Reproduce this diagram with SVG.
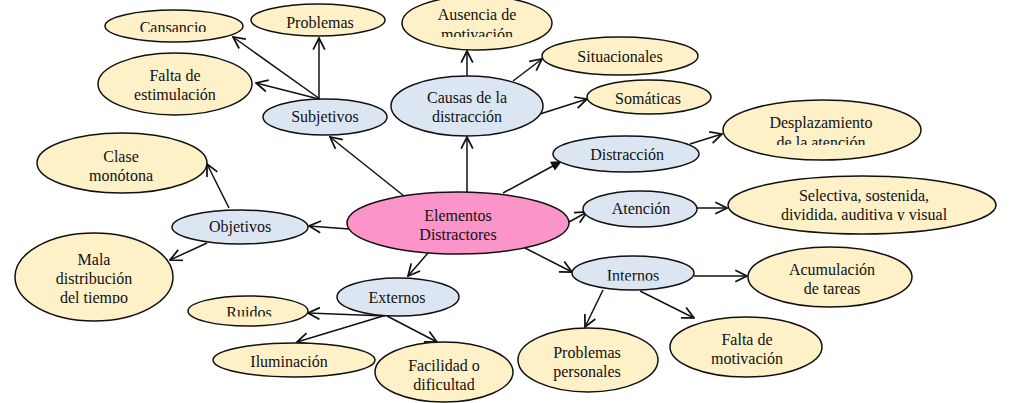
<svg xmlns="http://www.w3.org/2000/svg" width="1009" height="403" viewBox="0 0 1009 403" font-family="'Liberation Serif', 'DejaVu Serif', serif">
  <style>
    .yel { fill: #FEF0C7; stroke: #111; stroke-width: 1.5; }
    .blu { fill: #DCE6F2; stroke: #111; stroke-width: 1.5; }
    .pnk { fill: #FB94C9; stroke: #111; stroke-width: 1.5; }
    text { font-family: 'Liberation Serif', 'DejaVu Serif', serif; font-size: 16px; fill: #111; text-anchor: middle; }
    .edge { stroke: #111; stroke-width: 1.5; fill: none; marker-end: url(#open); }
    .edge.solid { marker-end: url(#filled); }
  </style>
  <defs>
    <marker id="open" markerUnits="userSpaceOnUse" markerWidth="14" markerHeight="14" viewBox="0 0 12 12" refX="11" refY="6" orient="auto">
      <path d="M1,1 L11,6 L1,11" fill="none" stroke="#111" stroke-width="1.5"/>
    </marker>
    <marker id="filled" markerUnits="userSpaceOnUse" markerWidth="12" markerHeight="12" viewBox="0 0 12 12" refX="11" refY="6" orient="auto">
      <path d="M0,1 L11,6 L0,11 Z" fill="#111"/>
    </marker>
    <!-- label areas that cut the text off at the bottom or top -->
    <clipPath id="cl-cansancio"><rect x="100" y="0" width="150" height="32"/></clipPath>
    <clipPath id="cl-ausencia"><rect x="400" y="0" width="160" height="37"/></clipPath>
    <clipPath id="cl-desplaz"><rect x="720" y="100" width="210" height="45"/></clipPath>
    <clipPath id="cl-selectiva"><rect x="725" y="176" width="280" height="44.5"/></clipPath>
    <clipPath id="cl-mala"><rect x="10" y="230" width="170" height="73.5"/></clipPath>
    <clipPath id="cl-ruidos"><rect x="185" y="290" width="130" height="26.5"/></clipPath>
    <clipPath id="cl-internos"><rect x="570" y="255" width="130" height="25.5"/></clipPath>
  </defs>

  <g id="connectors">
    <line class="edge" x1="404" y1="196" x2="330" y2="137"/>
    <line class="edge" x1="320" y1="99" x2="233" y2="37"/>
    <line class="edge" x1="319" y1="99" x2="319" y2="38"/>
    <line class="edge" x1="319" y1="99" x2="256" y2="83"/>
    <line class="edge" x1="467" y1="192" x2="467" y2="137"/>
    <line class="edge" x1="467" y1="76" x2="467" y2="51"/>
    <line class="edge" x1="513" y1="81" x2="542" y2="59"/>
    <line class="edge" x1="540" y1="114" x2="587" y2="99"/>
    <line class="edge solid" x1="503" y1="193" x2="562" y2="161"/>
    <line class="edge" x1="690" y1="144" x2="722" y2="134"/>
    <line class="edge" x1="569" y1="222" x2="587" y2="212"/>
    <line class="edge" x1="697" y1="208" x2="727" y2="208"/>
    <line class="edge" x1="525" y1="248" x2="572" y2="272"/>
    <line class="edge" x1="694" y1="276" x2="747" y2="276"/>
    <line class="edge" x1="603" y1="290" x2="585" y2="327"/>
    <line class="edge" x1="640" y1="291" x2="694" y2="318"/>
    <line class="edge" x1="428" y1="253" x2="408" y2="276"/>
    <line class="edge" x1="385" y1="316" x2="308" y2="313"/>
    <line class="edge" x1="383" y1="316" x2="297" y2="342"/>
    <line class="edge" x1="387" y1="316" x2="437" y2="342"/>
    <line class="edge" x1="349" y1="229" x2="309" y2="226"/>
    <line class="edge" x1="229" y1="208" x2="207" y2="164"/>
    <line class="edge" x1="207" y1="243" x2="170" y2="260"/>
  </g>

  <g id="n-elementos">
    <ellipse class="pnk" cx="458" cy="223" rx="111" ry="31"/>
    <text x="458" y="221">Elementos</text>
    <text x="458" y="240">Distractores</text>
  </g>

  <g id="n-subjetivos">
    <ellipse class="blu" cx="325" cy="117" rx="62" ry="18"/>
    <text x="325" y="122">Subjetivos</text>
  </g>
  <g id="n-cansancio">
    <ellipse class="yel" cx="174" cy="26" rx="69" ry="16"/>
    <text x="173" y="33" clip-path="url(#cl-cansancio)">Cansancio</text>
  </g>
  <g id="n-problemas">
    <ellipse class="yel" cx="318" cy="20" rx="67" ry="16"/>
    <text x="320" y="28">Problemas</text>
  </g>
  <g id="n-falta-estimulacion">
    <ellipse class="yel" cx="175" cy="84" rx="77" ry="31"/>
    <text x="175" y="81">Falta de</text>
    <text x="175" y="100">estimulación</text>
  </g>

  <g id="n-causas">
    <ellipse class="blu" cx="467" cy="106" rx="76" ry="30"/>
    <text x="467" y="103">Causas de la</text>
    <text x="467" y="122">distracción</text>
  </g>
  <g id="n-ausencia">
    <ellipse class="yel" cx="477" cy="23" rx="75" ry="27"/>
    <g clip-path="url(#cl-ausencia)">
      <text x="477" y="20">Ausencia de</text>
      <text x="477" y="40">motivación</text>
    </g>
  </g>
  <g id="n-situacionales">
    <ellipse class="yel" cx="620" cy="56" rx="78" ry="19"/>
    <text x="620" y="62">Situacionales</text>
  </g>
  <g id="n-somaticas">
    <ellipse class="yel" cx="649" cy="97" rx="62" ry="17"/>
    <text x="648" y="104">Somáticas</text>
  </g>

  <g id="n-distraccion">
    <ellipse class="blu" cx="626" cy="154" rx="73" ry="18"/>
    <text x="627" y="160">Distracción</text>
  </g>
  <g id="n-desplazamiento">
    <ellipse class="yel" cx="822" cy="130" rx="99" ry="30"/>
    <g clip-path="url(#cl-desplaz)">
      <text x="821" y="128">Desplazamiento</text>
      <text x="821" y="148">de la atención</text>
    </g>
  </g>

  <g id="n-atencion">
    <ellipse class="blu" cx="640" cy="209" rx="57" ry="18"/>
    <text x="641" y="214">Atención</text>
  </g>
  <g id="n-selectiva">
    <ellipse class="yel" cx="862" cy="205" rx="134" ry="29"/>
    <g clip-path="url(#cl-selectiva)">
      <text x="864" y="201">Selectiva, sostenida,</text>
      <text x="864" y="220">dividida, auditiva y visual</text>
    </g>
  </g>

  <g id="n-internos">
    <ellipse class="blu" cx="633" cy="273" rx="61" ry="17"/>
    <text x="633" y="281" clip-path="url(#cl-internos)">Internos</text>
  </g>
  <g id="n-acumulacion">
    <ellipse class="yel" cx="830" cy="277" rx="82" ry="30"/>
    <text x="832" y="275">Acumulación</text>
    <text x="832" y="294">de tareas</text>
  </g>
  <g id="n-problemas-personales">
    <ellipse class="yel" cx="588" cy="360" rx="70" ry="32"/>
    <text x="587" y="358">Problemas</text>
    <text x="587" y="377">personales</text>
  </g>
  <g id="n-falta-motivacion">
    <ellipse class="yel" cx="746" cy="347" rx="76" ry="30"/>
    <text x="747" y="345">Falta de</text>
    <text x="747" y="364">motivación</text>
  </g>

  <g id="n-externos">
    <ellipse class="blu" cx="398" cy="297" rx="61" ry="19"/>
    <text x="397" y="303">Externos</text>
  </g>
  <g id="n-ruidos">
    <ellipse class="yel" cx="248" cy="311" rx="60" ry="15"/>
    <text x="249" y="318" clip-path="url(#cl-ruidos)">Ruidos</text>
  </g>
  <g id="n-iluminacion">
    <ellipse class="yel" cx="294" cy="360" rx="81" ry="17"/>
    <text x="289" y="367">Iluminación</text>
  </g>
  <g id="n-facilidad">
    <ellipse class="yel" cx="444" cy="372" rx="69" ry="30"/>
    <text x="444" y="371">Facilidad o</text>
    <text x="444" y="390">dificultad</text>
  </g>

  <g id="n-objetivos">
    <ellipse class="blu" cx="240" cy="227" rx="68" ry="17"/>
    <text x="240" y="232">Objetivos</text>
  </g>
  <g id="n-clase">
    <ellipse class="yel" cx="122" cy="163" rx="85" ry="30"/>
    <text x="121" y="162">Clase</text>
    <text x="121" y="181">monótona</text>
  </g>
  <g id="n-mala">
    <ellipse class="yel" cx="94" cy="277" rx="79" ry="44"/>
    <g clip-path="url(#cl-mala)">
      <text x="94" y="265">Mala</text>
      <text x="94" y="284">distribución</text>
      <text x="94" y="303">del tiempo</text>
    </g>
  </g>
</svg>
